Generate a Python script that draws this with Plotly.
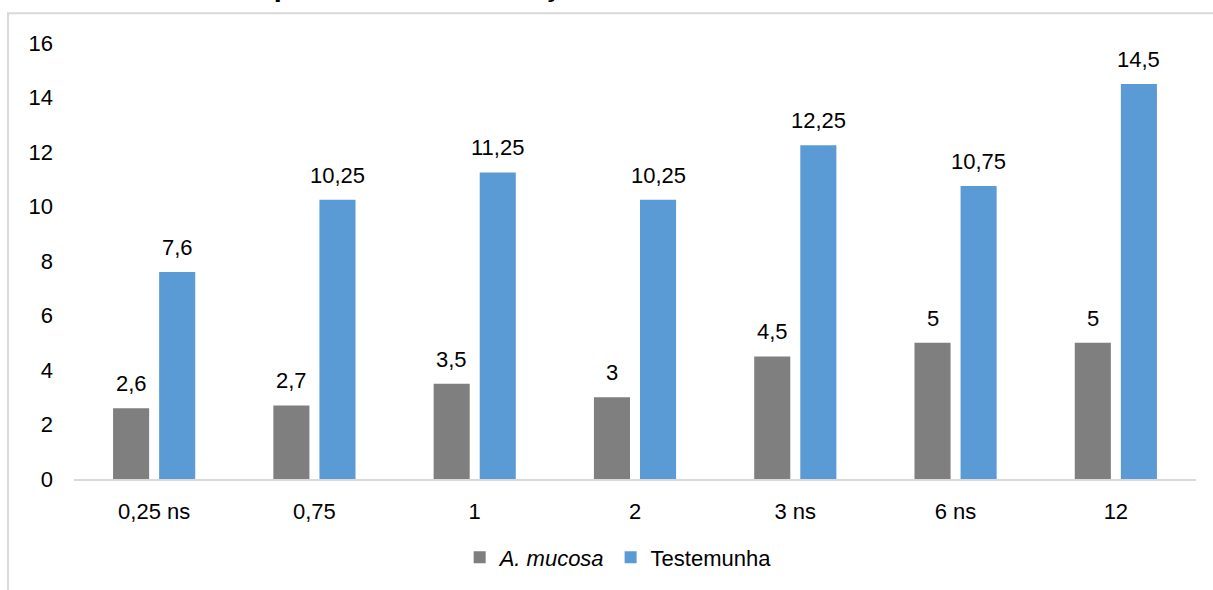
import plotly.graph_objects as go

categories = ["0,25 ns", "0,75", "1", "2", "3 ns", "6 ns", "12"]
a_mucosa = [2.6, 2.7, 3.5, 3, 4.5, 5, 5]
testemunha = [7.6, 10.25, 11.25, 10.25, 12.25, 10.75, 14.5]
y_ticks = [0, 2, 4, 6, 8, 10, 12, 14, 16]
title_text = "Tabela 2 – Teste por doses de avaliação"

GRAY = "#7f7f7f"
BLUE = "#5b9bd5"
FONT = "Arial, Liberation Sans, sans-serif"
FS = 22

def fmt(v):
    return ("%g" % v).replace(".", ",")

fig = go.Figure()
fig.add_trace(go.Bar(x=categories, y=a_mucosa, name="<i>A. mucosa</i>",
                     marker=dict(color=GRAY, line=dict(width=0)), hoverinfo="skip"))
fig.add_trace(go.Bar(x=categories, y=testemunha, name="Testemunha",
                     marker=dict(color=BLUE, line=dict(width=0)), hoverinfo="skip"))

annotations = []
for i in range(len(categories)):
    for vals, shift in ((a_mucosa, -23), (testemunha, 23)):
        annotations.append(dict(x=i, y=vals[i], xref="x", yref="y", text=fmt(vals[i]),
                                showarrow=False, xshift=shift, yshift=10, yanchor="bottom",
                                font=dict(size=FS, color="#000000", family=FONT)))

annotations.append(dict(x=-0.027, y=1.09, xref="paper", yref="paper", text="<b>" + title_text + "</b>",
                        showarrow=False, xanchor="left", yanchor="bottom",
                        font=dict(size=29, color="#000000", family=FONT)))

fig.update_layout(
    width=1213, height=590,
    margin=dict(l=74, r=17, t=43, b=107),
    paper_bgcolor="white", plot_bgcolor="white",
    barmode="group", bargap=0.425, bargroupgap=0.217,
    separators=",.",
    font=dict(family=FONT, size=FS, color="#000000"),
    xaxis=dict(type="category", range=[-0.5, 6.5], showgrid=False, showline=True,
               linecolor="#d9d9d9", linewidth=2, ticks="", tickfont=dict(size=FS),
               ticklabelstandoff=12, fixedrange=True),
    yaxis=dict(range=[0, 16], tickvals=y_ticks, showgrid=False, zeroline=False,
               showline=False, ticks="", tickfont=dict(size=FS), ticklabelstandoff=20),
    legend=dict(orientation="h", x=0.485, xanchor="center", y=-0.18, yanchor="middle",
                font=dict(size=FS), traceorder="normal"),
    annotations=annotations,
    shapes=[dict(type="rect", xref="paper", yref="paper",
                 x0=(8 - 74) / 1122, x1=1.03, y0=-0.3, y1=(483 - 13) / 440,
                 line=dict(color="#d9d9d9", width=2), fillcolor="rgba(0,0,0,0)", layer="below")],
    showlegend=True,
)

fig.write_html("out.html")
